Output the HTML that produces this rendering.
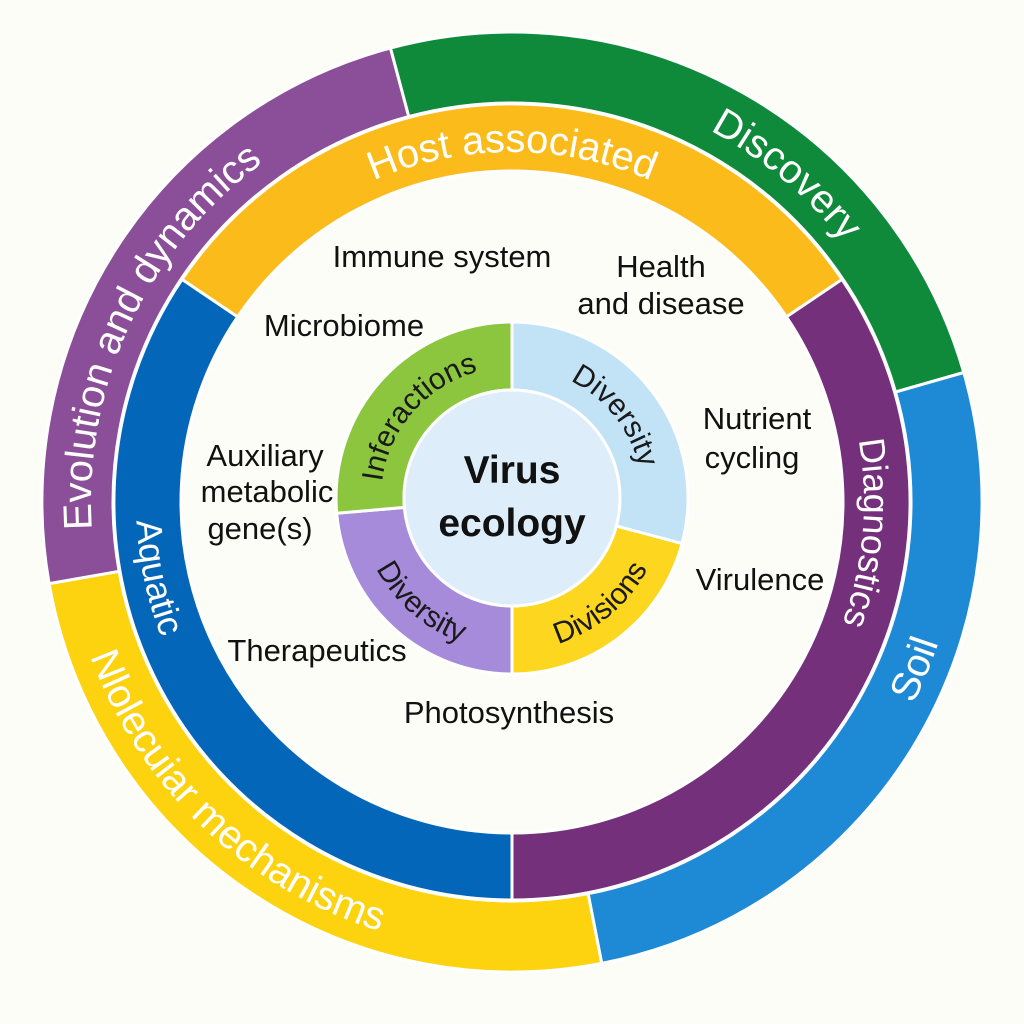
<!DOCTYPE html>
<html><head><meta charset="utf-8"><style>
html,body{margin:0;padding:0;background:#fdfdf8;}
svg{display:block}
.w{fill:#fff;font-family:"Liberation Sans",sans-serif;}
.k{fill:#111;font-family:"Liberation Sans",sans-serif;font-size:31px;text-anchor:middle;}
.i{fill:#1a1a1a;font-family:"Liberation Sans",sans-serif;font-size:30px;}
</style></head><body>
<svg id="s" width="1024" height="1024" viewBox="0 0 1024 1024">
<rect width="1024" height="1024" fill="#fdfdf8"/>
<g id="segs"></g>
<defs id="d"></defs>
<circle cx="512" cy="498" r="108" fill="#ddeefa" stroke="#fff" stroke-width="3"/>
<text x="512" y="483" text-anchor="middle" font-family="Liberation Sans,sans-serif" font-weight="bold" font-size="39" fill="#111">Virus</text>
<text x="512" y="536" text-anchor="middle" font-family="Liberation Sans,sans-serif" font-weight="bold" font-size="39" fill="#111">ecology</text>

<text class="w" font-size="40"><textPath href="#p_evo" startOffset="50%" text-anchor="middle">Evolution and dynamics</textPath></text>
<text class="w" font-size="40"><textPath href="#p_disc" startOffset="50%" text-anchor="middle">Discovery</textPath></text>
<text class="w" font-size="40"><textPath href="#p_soil" startOffset="50%" text-anchor="middle">Soil</textPath></text>
<text class="w" font-size="40"><textPath href="#p_mol" startOffset="50%" text-anchor="middle">Nlolecuiar mechanisms</textPath></text>
<text class="w" font-size="40"><textPath href="#p_host" startOffset="50%" text-anchor="middle">Host associated</textPath></text>
<text class="w" font-size="36"><textPath href="#p_diag" startOffset="50%" text-anchor="middle">Diagnostics</textPath></text>
<text class="w" font-size="36"><textPath href="#p_aq" startOffset="50%" text-anchor="middle">Aquatic</textPath></text>
<text class="i"><textPath href="#p_int" startOffset="50%" text-anchor="middle">Inferactions</textPath></text>
<text class="i"><textPath href="#p_div1" startOffset="50%" text-anchor="middle">Diversity</textPath></text>
<text class="i"><textPath href="#p_divi" startOffset="50%" text-anchor="middle">Divisions</textPath></text>
<text class="i"><textPath href="#p_div2" startOffset="50%" text-anchor="middle">Diversity</textPath></text>

<text class="k" x="442" y="267">Immune system</text>
<text class="k" x="661" y="277">Health</text>
<text class="k" x="661" y="314">and disease</text>
<text class="k" x="344" y="336">Microbiome</text>
<text class="k" x="757" y="429">Nutrient</text>
<text class="k" x="752" y="468">cycling</text>
<text class="k" x="265" y="466">Auxiliary</text>
<text class="k" x="267" y="502">metabolic</text>
<text class="k" x="260" y="539">gene(s)</text>
<text class="k" x="760" y="590">Virulence</text>
<text class="k" x="317" y="661">Therapeutics</text>
<text class="k" x="509" y="723">Photosynthesis</text>
</svg>
<script>
var NS="http://www.w3.org/2000/svg";
function P(cx,cy,r,a){a=a*Math.PI/180;return [(cx+r*Math.sin(a)).toFixed(1),(cy-r*Math.cos(a)).toFixed(1)];}
function sector(cx,cy,r1,r2,a1,a2,fill){
 var L=(a2-a1)>180?1:0;var p1=P(cx,cy,r2,a1),p2=P(cx,cy,r2,a2),p3=P(cx,cy,r1,a2),p4=P(cx,cy,r1,a1);
 var e=document.createElementNS(NS,"path");
 e.setAttribute("d","M"+p1+" A"+r2+" "+r2+" 0 "+L+" 1 "+p2+" L"+p3+" A"+r1+" "+r1+" 0 "+L+" 0 "+p4+"Z");
 e.setAttribute("fill",fill);e.setAttribute("stroke","#fff");e.setAttribute("stroke-width","3");
 document.getElementById("segs").appendChild(e);}
function arc(id,cx,cy,r,a1,a2,cw){
 var L=(a2-a1)>180?1:0;var e=document.createElementNS(NS,"path");e.setAttribute("id",id);
 if(cw){e.setAttribute("d","M"+P(cx,cy,r,a1)+" A"+r+" "+r+" 0 "+L+" 1 "+P(cx,cy,r,a2));}
 else{e.setAttribute("d","M"+P(cx,cy,r,a2)+" A"+r+" "+r+" 0 "+L+" 0 "+P(cx,cy,r,a1));}
 e.setAttribute("fill","none");document.getElementById("d").appendChild(e);}
var cx=512,cy=502;
sector(cx,cy,399,470,-15,74,"#0f8a3b");
sector(cx,cy,399,470,74,169,"#1e8ad6");
sector(cx,cy,399,470,169,260,"#fdd20f");
sector(cx,cy,399,470,260,345,"#8a4f98");
sector(cx,cy,331,398,-56,56,"#fbbb1a");
sector(cx,cy,331,398,56,180,"#75307c");
sector(cx,cy,331,398,180,304,"#0466b9");
var ix=512,iy=498;
sector(ix,iy,108,176,0,105,"#c2e2f6");
sector(ix,iy,108,176,105,180,"#fcd61f");
sector(ix,iy,108,176,180,265,"#a58bd9");
sector(ix,iy,108,176,265,360,"#8cc63e");
arc("p_evo",cx,cy,421,240,350,true);
arc("p_disc",cx,cy,421,0,80,true);
arc("p_soil",cx,cy,449,80,145,false);
arc("p_mol",cx,cy,449,180,267,false);
arc("p_host",cx,cy,350,-50,50,true);
arc("p_diag",cx,cy,352,55,135,true);
arc("p_aq",cx,cy,376,220,296,false);
arc("p_int",ix,iy,131,262,360,true);
arc("p_div1",ix,iy,131,3,100,true);
arc("p_divi",ix,iy,153,100,180,false);
arc("p_div2",ix,iy,153,180,262,false);
</script>
</body></html>
